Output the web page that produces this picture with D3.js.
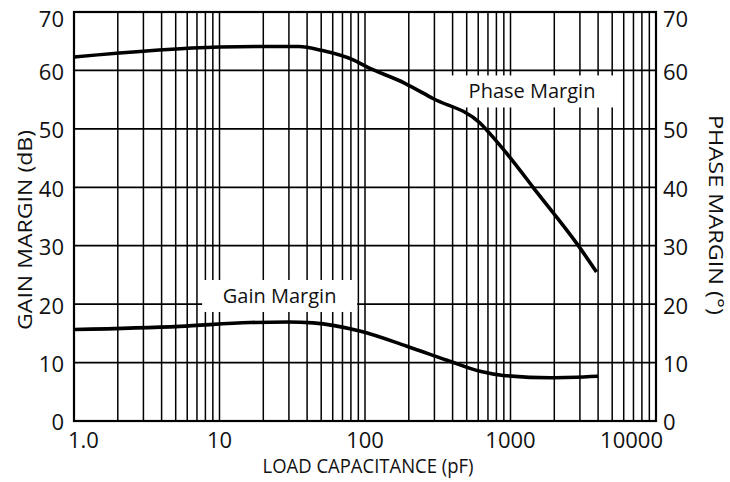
<!DOCTYPE html>
<html>
<head>
<meta charset="utf-8">
<script src="https://cdn.jsdelivr.net/npm/d3@7"></script>
<style>
  body { margin: 0; background: #fff; }
  text { font-family: "Open Sans", "Noto Sans", sans-serif; fill: #111; }
</style>
</head>
<body>
<div id="chart"></div>
<script>
// load capacitance (pF) vs margins
var phaseCap = [1, 10, 19, 35, 51, 83, 103, 188, 293, 617, 800, 1000, 1429, 2910, 3900]
var phaseDeg = [62.3, 64.0, 64.1, 64.1, 63.4, 61.8, 60.6, 57.8, 55.2, 51.0, 47.9, 45.0, 40.0, 30.1, 25.5]

var gainCap = [1, 5.35, 16.2, 29.6, 44, 92, 194, 366, 617, 888, 1900, 4000]
var gainDb  = [15.65, 16.2, 16.85, 16.95, 16.8, 15.4, 12.8, 10.4, 8.5, 7.8, 7.4, 7.65]

var xTicks = [1, 10, 100, 1000, 10000]
var xTickLabels = ["1.0", "10", "100", "1000", "10000"]
var yTicks = [0, 10, 20, 30, 40, 50, 60, 70]

var W = 730, H = 482
var margin = {top: 12, right: 74, bottom: 61, left: 74}

var svg = d3.select('#chart').append('svg')
  .attr('width', W)
  .attr('height', H)

var x = d3.scaleLog().domain([1, 10000]).range([margin.left, W - margin.right])
var y = d3.scaleLinear().domain([0, 70]).range([H - margin.bottom, margin.top])

var grid = svg.append('g')

// vertical grid, decades and the 2..9 in between
grid.selectAll('line.v')
  .data(x.ticks())
  .enter()
  .append('line')
  .attr('class', 'v')
  .attr('x1', function(d){ return x(d) })
  .attr('x2', function(d){ return x(d) })
  .attr('y1', y(70))
  .attr('y2', y(0))
  .attr('stroke', '#000')
  .attr('stroke-width', 1.5)

grid.selectAll('line.h')
  .data(yTicks)
  .enter()
  .append('line')
  .attr('class', 'h')
  .attr('x1', x(1))
  .attr('x2', x(10000))
  .attr('y1', function(d){ return y(d) })
  .attr('y2', function(d){ return y(d) })
  .attr('stroke', '#000')
  .attr('stroke-width', 1.7)

// white boxes behind the in-plot labels
var notes = [
  {text: "Gain Margin", cap: 25.9, val: 21.4, w: 155, h: 32},
  {text: "Phase Margin", cap: 1406, val: 56.4, w: 170, h: 32}
]
svg.selectAll('rect.note')
  .data(notes)
  .enter()
  .append('rect')
  .attr('class', 'note')
  .attr('x', function(d){ return x(d.cap) - d.w/2 })
  .attr('y', function(d){ return y(d.val) - d.h/2 })
  .attr('width', function(d){ return d.w })
  .attr('height', function(d){ return d.h })
  .attr('fill', '#fff')

svg.selectAll('text.note')
  .data(notes)
  .enter()
  .append('text')
  .attr('class', 'note')
  .attr('x', function(d){ return x(d.cap) })
  .attr('y', function(d){ return y(d.val) })
  .attr('dy', '0.35em')
  .attr('text-anchor', 'middle')
  .style('font-size', '20px')
  .text(function(d){ return d.text })

// frame
svg.append('rect')
  .attr('x', x(1))
  .attr('y', y(70))
  .attr('width', x(10000) - x(1))
  .attr('height', y(0) - y(70))
  .attr('fill', 'none')
  .attr('stroke', '#000')
  .attr('stroke-width', 2.2)

var line = d3.line()
  .x(function(d){ return x(d[0]) })
  .y(function(d){ return y(d[1]) })
  .curve(d3.curveMonotoneX)

svg.append('path')
  .datum(d3.zip(phaseCap, phaseDeg))
  .attr('d', line)
  .attr('fill', 'none')
  .attr('stroke', '#000')
  .attr('stroke-width', 3.6)

svg.append('path')
  .datum(d3.zip(gainCap, gainDb))
  .attr('d', line)
  .attr('fill', 'none')
  .attr('stroke', '#000')
  .attr('stroke-width', 3.6)

// y tick labels, both sides
function yLabelY(d){ return y(d) + (d === 70 ? 7 : 1.5) }
svg.selectAll('text.yl')
  .data(yTicks)
  .enter()
  .append('text')
  .attr('class', 'yl')
  .attr('x', x(1) - 10)
  .attr('y', yLabelY)
  .attr('dy', '0.36em')
  .attr('text-anchor', 'end')
  .style('font-size', '22px')
  .text(function(d){ return d })

svg.selectAll('text.yr')
  .data(yTicks)
  .enter()
  .append('text')
  .attr('class', 'yr')
  .attr('x', x(10000) + 7)
  .attr('y', yLabelY)
  .attr('dy', '0.36em')
  .attr('text-anchor', 'start')
  .style('font-size', '22px')
  .text(function(d){ return d })

// x tick labels; the end ones are pushed inside
svg.selectAll('text.xl')
  .data(xTicks)
  .enter()
  .append('text')
  .attr('class', 'xl')
  .attr('x', function(d, i){
    if (i === 0) return x(d) - 6
    if (i === xTicks.length - 1) return x(d) + 7
    return x(d)
  })
  .attr('y', y(0) + 27)
  .attr('text-anchor', function(d, i){
    if (i === 0) return 'start'
    if (i === xTicks.length - 1) return 'end'
    return 'middle'
  })
  .style('font-size', '22px')
  .text(function(d, i){ return xTickLabels[i] })

svg.append('text')
  .attr('x', (x(1) + x(10000)) / 2 + 3)
  .attr('y', 473)
  .attr('text-anchor', 'middle')
  .attr('textLength', 211)
  .attr('lengthAdjust', 'spacingAndGlyphs')
  .style('font-size', '20px')
  .text("LOAD CAPACITANCE (pF)")

svg.append('text')
  .attr('transform', 'translate(32,230) rotate(-90)')
  .attr('text-anchor', 'middle')
  .attr('textLength', 200)
  .attr('lengthAdjust', 'spacingAndGlyphs')
  .style('font-size', '20px')
  .text("GAIN MARGIN (dB)")

svg.append('text')
  .attr('transform', 'translate(709,215) rotate(90)')
  .attr('text-anchor', 'middle')
  .attr('textLength', 200)
  .attr('lengthAdjust', 'spacingAndGlyphs')
  .style('font-size', '20px')
  .text("PHASE MARGIN (°)")
</script>
</body>
</html>
